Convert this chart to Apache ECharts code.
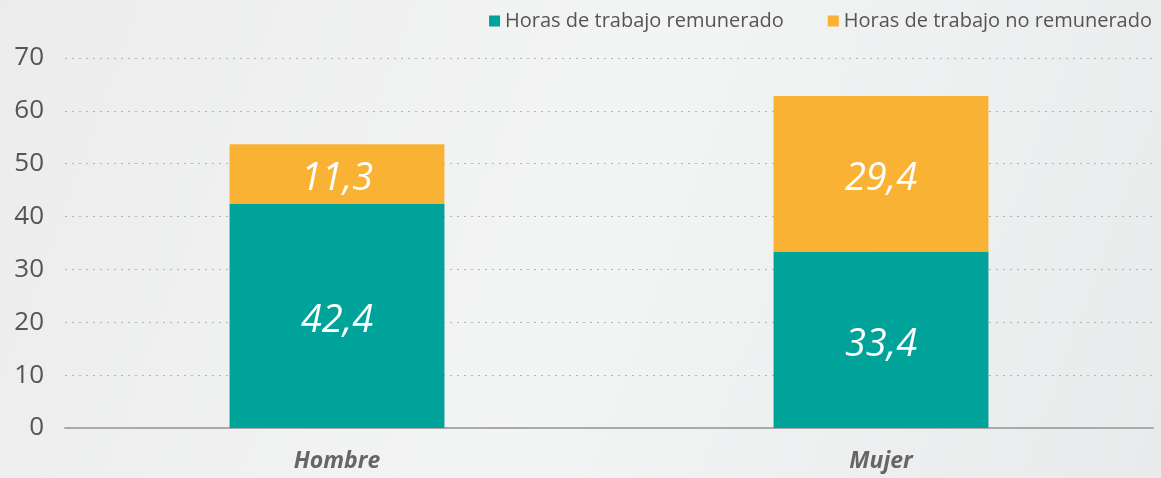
<!DOCTYPE html>
<html><head><meta charset="utf-8">
<script src="https://cdn.jsdelivr.net/npm/echarts@6/dist/echarts.min.js"></script>
<style>html,body{margin:0;padding:0;}#c{width:1161px;height:478px;background:linear-gradient(110deg,#ececed 0%,#f3f4f4 50%,#e9eaeb 100%);}</style>
</head><body><div id="c"></div>
<script>
const categories = ["Hombre", "Mujer"];
const seriesNames = ["Horas de trabajo remunerado", "Horas de trabajo no remunerado"];
const remunerado = [42.4, 33.4];
const noRemunerado = [11.3, 29.4];
const yTicks = [0, 10, 20, 30, 40, 50, 60, 70];

const chart = echarts.init(document.getElementById('c'));
const fmt = p => p.value.toFixed(1).replace('.', ',');
const labelStyle = {show: true, position: 'inside', offset: [0, 5], formatter: fmt, color: '#fff', fontSize: 38, fontStyle: 'italic', fontFamily: 'Open Sans'};
chart.setOption({
  backgroundColor: 'transparent',
  animation: false,
  legend: {
    top: 6, right: 4, itemWidth: 11, itemHeight: 11, itemGap: 44,
    icon: 'rect',
    textStyle: {fontSize: 20, color: '#555', fontFamily: 'Open Sans'},
    data: seriesNames
  },
  grid: {left: 65, right: 8, top: 58, bottom: 50},
  xAxis: {
    type: 'category', data: categories,
    axisLine: {lineStyle: {color: '#aaa', width: 2}},
    axisTick: {show: false},
    axisLabel: {fontSize: 23, fontWeight: 'bold', fontStyle: 'italic', color: '#666', margin: 22, fontFamily: 'Open Sans'}
  },
  yAxis: {
    type: 'value', min: yTicks[0], max: yTicks[yTicks.length-1], interval: 10,
    axisLine: {show: false}, axisTick: {show: false},
    axisLabel: {fontSize: 26, color: '#555', margin: 21, fontFamily: 'Open Sans', align: 'right'},
    splitLine: {lineStyle: {type: [2, 5], color: '#b5b5b5', width: 1}}
  },
  series: [
    {name: seriesNames[0], type: 'bar', stack: 't', data: remunerado, barWidth: '39.5%', itemStyle: {color: '#00A39A'}, label: labelStyle},
    {name: seriesNames[1], type: 'bar', stack: 't', data: noRemunerado, barWidth: '39.5%', itemStyle: {color: '#F9B233'}, label: labelStyle}
  ]
});
</script></body></html>
